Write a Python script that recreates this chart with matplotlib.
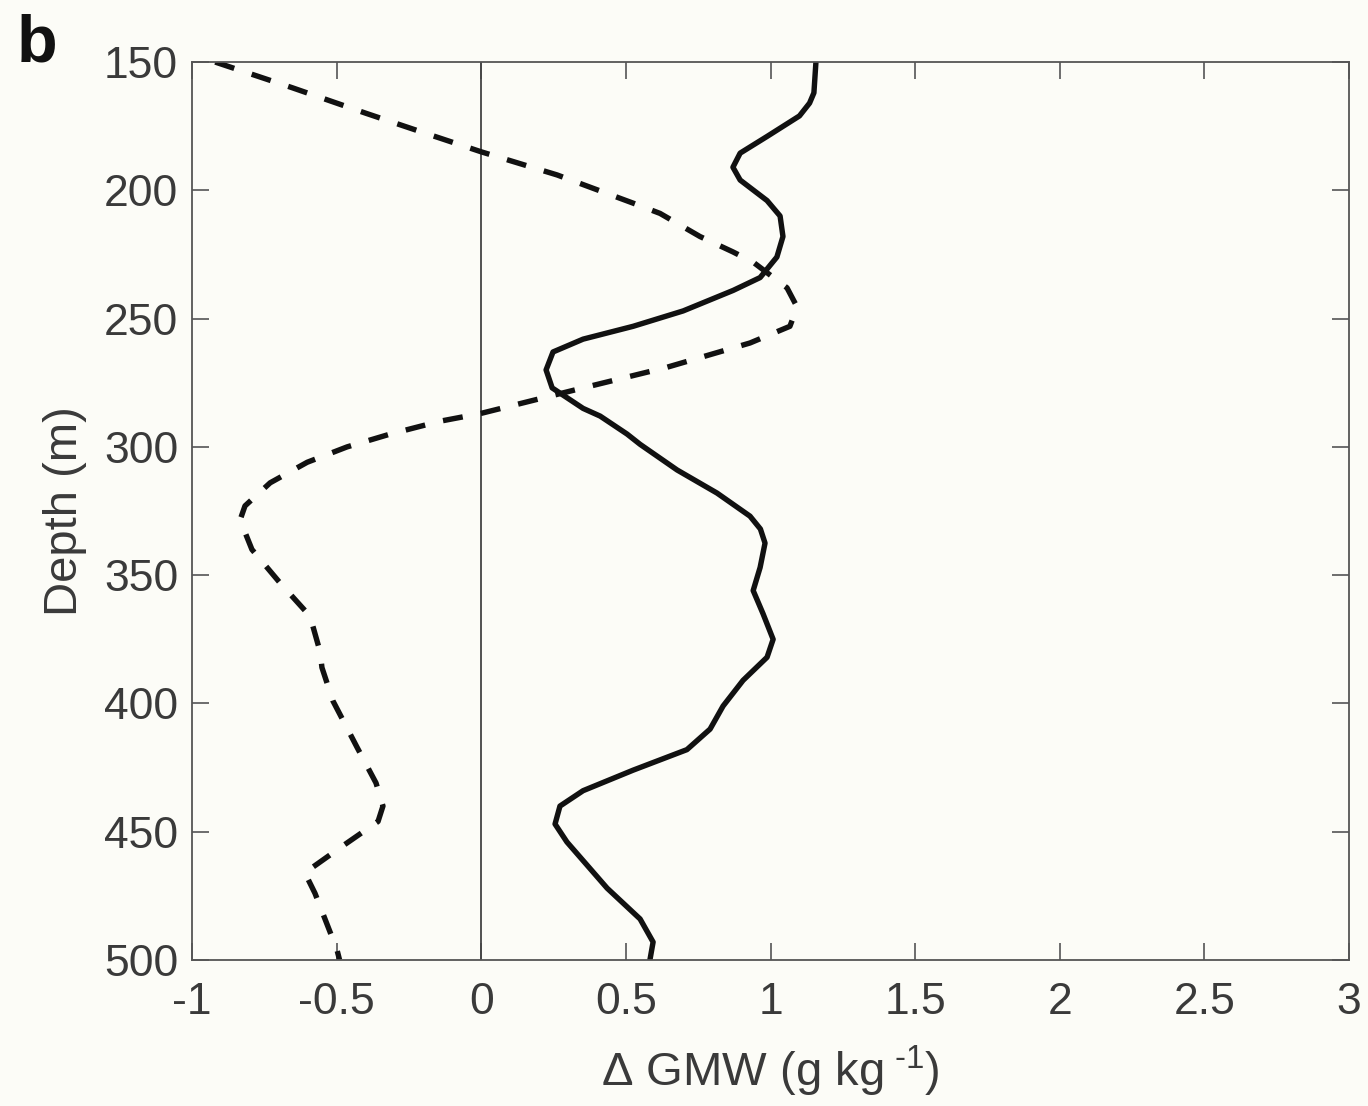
import matplotlib
matplotlib.use("Agg")
import matplotlib.pyplot as plt

# GMW anomaly profiles
depth_solid = [150, 162, 166, 171, 179, 185.5, 191, 196, 204, 210, 218, 226, 234, 239, 247, 253,
               258, 263, 270, 277, 285, 288, 295, 299, 309, 318, 327, 332, 337.5, 347, 356, 365,
               375, 382, 391, 401, 410, 418, 426, 434, 440, 447, 454, 472, 484, 493, 500]
gmw_solid = [1.157, 1.15, 1.135, 1.10, 0.988, 0.895, 0.870, 0.895, 0.988, 1.033, 1.043, 1.022,
             0.964, 0.871, 0.698, 0.525, 0.352, 0.248, 0.224, 0.245, 0.352, 0.411, 0.504, 0.549,
             0.677, 0.815, 0.929, 0.965, 0.981, 0.964, 0.940, 0.974, 1.009, 0.988, 0.905, 0.836,
             0.791, 0.711, 0.525, 0.352, 0.272, 0.255, 0.296, 0.435, 0.549, 0.594, 0.583]

depth_dash = [150, 160, 170, 178, 185, 194, 205, 209, 218, 224, 228, 238, 245.5, 253, 259.5,
              269, 277, 287, 290, 295, 300, 306, 314, 323, 328.5, 340, 353, 366, 380, 386,
              399, 417, 431, 440, 446, 456, 466, 474, 496, 500]
gmw_dash = [-0.92, -0.654, -0.398, -0.187, 0.0, 0.262, 0.525, 0.618, 0.756, 0.870, 0.94, 1.057,
            1.092, 1.067, 0.929, 0.641, 0.352, -0.003, -0.143, -0.315, -0.464, -0.602, -0.73,
            -0.817, -0.834, -0.793, -0.696, -0.592, -0.557, -0.551, -0.513, -0.43, -0.364,
            -0.34, -0.357, -0.485, -0.61, -0.575, -0.499, -0.49]

xticks = [-1, -0.5, 0, 0.5, 1, 1.5, 2, 2.5, 3]
xticklabels = ['-1', '-0.5', '0', '0.5', '1', '1.5', '2', '2.5', '3']
yticks = [150, 200, 250, 300, 350, 400, 450, 500]

plt.rcParams['font.family'] = ['Liberation Sans', 'DejaVu Sans']
plt.rcParams['mathtext.fontset'] = 'custom'
plt.rcParams['mathtext.rm'] = 'Liberation Sans'
bg = '#fcfcf7'
txt = '#3a3a3a'
fig = plt.figure(figsize=(13.68, 11.06), dpi=100, facecolor=bg)
ax = fig.add_axes([0.1404, 0.132, 0.8457, 0.8119], facecolor=bg)

ax.axvline(0, color='#444444', lw=1.3)
ax.plot(gmw_dash, depth_dash, color='#111111', lw=3.9, ls=(0, (3.7, 3.4)))
ax.plot(gmw_solid, depth_solid, color='#111111', lw=3.9, solid_joinstyle='round')

ax.set_xlim(-1, 3)
ax.set_ylim(500, 150)
ax.set_xticks(xticks)
ax.set_xticklabels(xticklabels)
ax.set_yticks(yticks)
ax.tick_params(direction='in', length=12, width=1.2, color='#555555', labelsize=32,
               labelcolor=txt, top=True, right=True)
ax.tick_params(axis='x', pad=16)
ax.tick_params(axis='y', pad=10)
for s in ax.spines.values():
    s.set_color('#555555')
    s.set_linewidth(1.3)

ax.set_xlabel(r'$\Delta$ GMW (g kg$^{\text{ -1}}$)', fontsize=34, color=txt, labelpad=15)
ax.set_ylabel('Depth (m)', fontsize=34, color=txt, labelpad=12)
fig.text(0.012, 0.988, 'b', fontsize=48, fontweight='bold', va='top', ha='left', color='#111111')

fig.savefig('out.png', dpi=100, facecolor=bg)
